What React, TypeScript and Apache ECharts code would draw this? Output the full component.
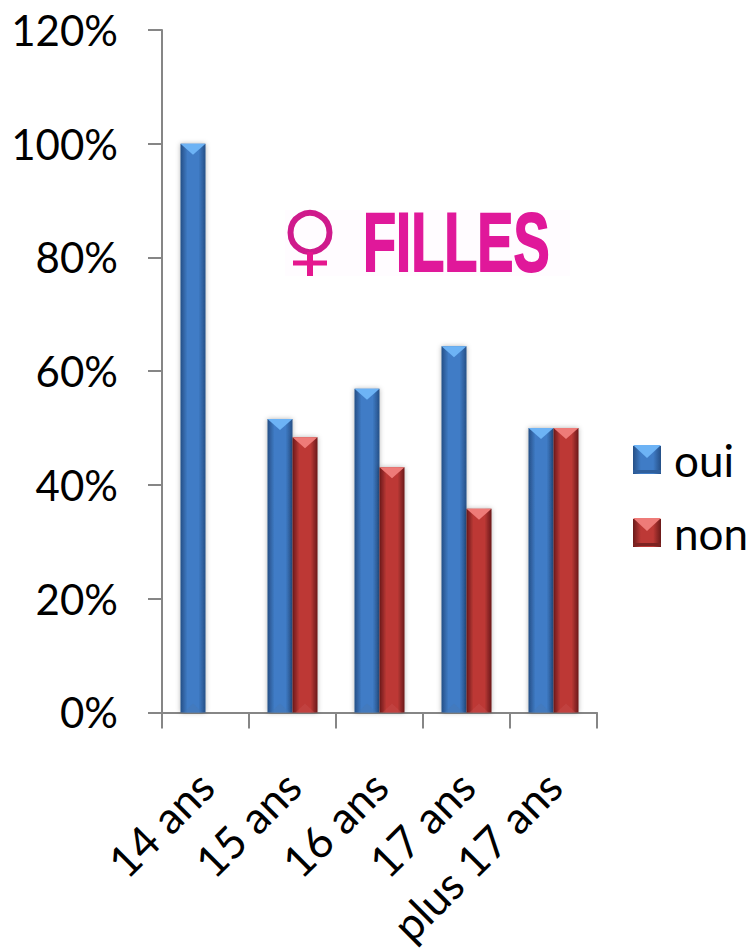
import React, { useEffect, useRef } from "react";
import * as echarts from "echarts";

const categories = ["14 ans", "15 ans", "16 ans", "17 ans", "plus 17 ans"];
const oui = [100, 51.6, 56.9, 64.4, 50];
const non = [null, 48.4, 43.1, 35.8, 50];
const seriesNames = ["oui", "non"];
const yTicks = { min: 0, max: 120, interval: 20 };
const FONT = "Lato, Carlito, 'Open Sans', sans-serif";
const BAR_W = 25;

const blue = { edge: "#254f86", mid: "#3f7cc6", top: "#6db3f5", bottom: "rgba(70,120,180,0.45)", legendBottom: "#2f5f9c" };
const red = { edge: "#6a1a19", mid: "#bd3936", top: "#ee7b78", bottom: "rgba(200,80,80,0.4)", legendBottom: "#7c2321" };

const grad = (c: any) =>
  new echarts.graphic.LinearGradient(0, 0, 1, 0, [
    { offset: 0, color: c.edge },
    { offset: 0.28, color: c.mid },
    { offset: 0.72, color: c.mid },
    { offset: 1, color: c.edge },
  ]);

const barSeries = (name: string, data: any[], c: any) => ({
  name,
  type: "bar",
  data,
  barWidth: BAR_W,
  barGap: "0%",
  itemStyle: {
    color: grad(c),
    shadowBlur: 5,
    shadowColor: "rgba(0,0,0,0.3)",
  },
});

const bevelSeries = (data: any[], c: any, dir: number) => ({
  type: "custom",
  silent: true,
  z: 5,
  data: data.map((v, i) => [i, v]),
  encode: { x: 0, y: 1 },
  renderItem: (_: any, api: any) => {
    const v = api.value(1);
    if (v == null || isNaN(v)) return null;
    const p = api.coord([api.value(0), v]);
    const base = api.coord([api.value(0), 0]);
    const l = p[0] + (dir < 0 ? -BAR_W : 0);
    const r = l + BAR_W;
    const m = (l + r) / 2;
    return {
      type: "group",
      children: [
        {
          type: "polygon",
          shape: { points: [[l, p[1]], [r, p[1]], [m, p[1] + 11]] },
          style: { fill: c.top },
        },
        {
          type: "polygon",
          shape: { points: [[l + 3, base[1]], [r - 3, base[1]], [m, base[1] - 9]] },
          style: { fill: c.bottom },
        },
      ],
    };
  },
});

const legendBevel = (x: number, y: number, c: any) => [
  { type: "polygon", z: 100, shape: { points: [[x, y], [x + 28, y], [x + 14, y + 13]] }, style: { fill: c.top } },
  { type: "rect", z: 100, shape: { x, y: y + 25, width: 28, height: 3 }, style: { fill: c.legendBottom } },
];

export default function App() {
  const ref = useRef<HTMLDivElement>(null);
  useEffect(() => {
    const chart = echarts.init(ref.current!, null, { renderer: "svg" });
    chart.setOption({
      animation: false,
      backgroundColor: "#ffffff",
      textStyle: { fontFamily: FONT },
      grid: { left: 162, top: 30, width: 435, height: 683, containLabel: false },
      legend: {
        data: seriesNames,
        orient: "vertical",
        left: 633,
        top: 438,
        padding: 0,
        itemWidth: 28,
        itemHeight: 28,
        itemGap: 29,
        icon: "rect",
        textStyle: { fontSize: 44, lineHeight: 28, color: "#000", fontFamily: FONT, padding: [0, 0, 0, 8] },
      },
      xAxis: {
        type: "category",
        data: categories,
        axisLine: { lineStyle: { color: "#868686", width: 2 } },
        axisTick: { show: true, alignWithLabel: false, length: 16, lineStyle: { color: "#868686", width: 2 } },
        axisLabel: { rotate: 45, interval: 0, fontSize: 44, color: "#000", margin: 66, fontFamily: FONT },
      },
      yAxis: {
        type: "value",
        min: yTicks.min,
        max: yTicks.max,
        interval: yTicks.interval,
        splitLine: { show: false },
        axisLine: { show: true, lineStyle: { color: "#868686", width: 2 } },
        axisTick: { show: true, length: 14, lineStyle: { color: "#868686", width: 2 } },
        axisLabel: { formatter: "{value}%", fontSize: 42, color: "#000", margin: 44, fontFamily: FONT },
      },
      series: [
        barSeries(seriesNames[0], oui, blue),
        barSeries(seriesNames[1], non, red),
        bevelSeries(oui, blue, -1),
        bevelSeries(non, red, 1),
      ],
      graphic: [
        ...legendBevel(633, 445, blue),
        ...legendBevel(633, 518, red),
        { type: "rect", z: 90, shape: { x: 285, y: 210, width: 285, height: 66 }, style: { fill: "#fffcff" } },
        { type: "circle", z: 100, shape: { cx: 310, cy: 232.5, r: 19.5 }, style: { fill: "none", stroke: "#cf1a8c", lineWidth: 6 } },
        { type: "line", z: 100, shape: { x1: 310, y1: 252, x2: 310, y2: 276 }, style: { stroke: "#e5178f", lineWidth: 6 } },
        { type: "line", z: 100, shape: { x1: 293, y1: 263, x2: 327, y2: 263 }, style: { stroke: "#e5178f", lineWidth: 5 } },
        {
          type: "text",
          z: 100,
          x: 363,
          y: 200,
          scaleX: 0.63,
          scaleY: 0.97,
          style: {
            text: "FILLES",
            fontFamily: "'Liberation Sans', sans-serif",
            fontWeight: "bold",
            fontSize: 86,
            fill: "#e0189a",
            stroke: "#e0189a",
            lineWidth: 2,
          },
        },
      ],
    });
    return () => chart.dispose();
  }, []);
  return <div ref={ref} style={{ position: "fixed", left: 0, top: 0, width: 754, height: 950 }} />;
}
